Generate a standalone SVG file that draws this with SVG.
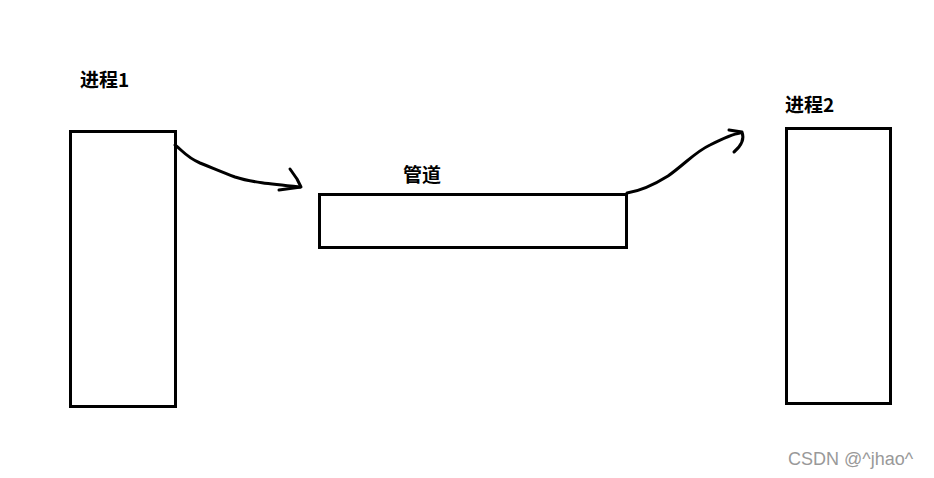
<svg xmlns="http://www.w3.org/2000/svg" width="934" height="478" viewBox="0 0 934 478">
<style>
.box{fill:#fff;stroke:#000;stroke-width:3}
.lbl{font-family:"Noto Sans CJK SC","Liberation Sans",sans-serif;font-weight:bold;font-size:19px;fill:#000}
.ink{fill:none;stroke:#000;stroke-width:3;stroke-linecap:round;stroke-linejoin:round}
.wm{font-family:"Liberation Sans",Arial,sans-serif;font-size:18px;fill:#999}
</style>
<rect width="934" height="478" fill="#fff"/>
<g id="proc1">
<rect class="box" x="70.5" y="131.5" width="105" height="275"/>
<text class="lbl" x="80" y="87">进程1</text>
</g>
<g id="pipe">
<rect class="box" x="319.5" y="194.5" width="307" height="53"/>
<text class="lbl" x="403" y="182">管道</text>
</g>
<g id="proc2">
<rect class="box" x="786.5" y="128.5" width="104" height="275"/>
<text class="lbl" x="785" y="112">进程2</text>
</g>
<g id="connectors">
<path class="ink" d="M175,145 C182,150 186,157 200,163 C215,169 222,172 235,177 C250,182 270,184 300,187"/>
<path class="ink" d="M290,169 L297,179 L301,187 L279,190"/>
<path class="ink" d="M627,193 C640,191 652,186 668,176 C685,164 695,152 710,145 C722,139 732,134 740,133"/>
<path class="ink" d="M729,130 L742,132 C745,140 741,146 734,152"/>
</g>
<text class="wm" x="788" y="465">CSDN @^jhao^</text>
</svg>
